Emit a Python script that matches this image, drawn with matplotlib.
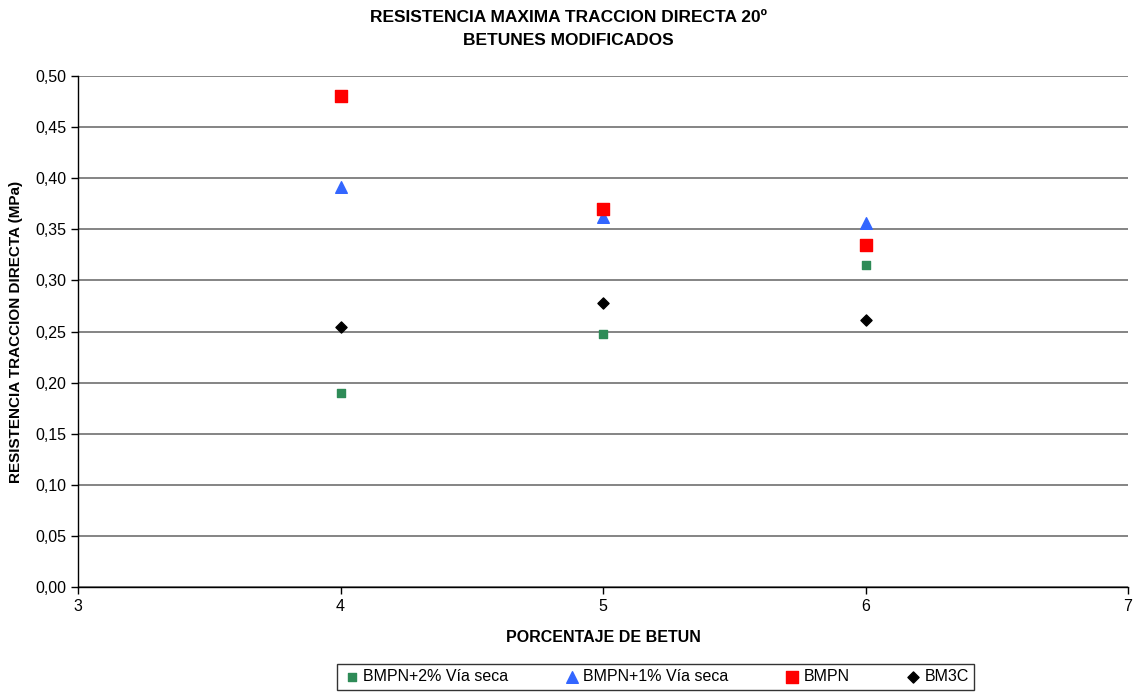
import matplotlib.pyplot as plt
import numpy as np

plt.rcParams['font.family'] = ['Liberation Sans', 'DejaVu Sans']

# percentage of binder
x_vals = [4, 5, 6]

# series values (MPa)
bmpn_2_seca = [0.190, 0.248, 0.315]
bmpn_1_seca = [0.391, 0.362, 0.356]
bmpn = [0.480, 0.370, 0.335]
bm3c = [0.254, 0.278, 0.261]

labels = ["BMPN+2% Vía seca", "BMPN+1% Vía seca", "BMPN", "BM3C"]
y_ticks = np.arange(0, 0.51, 0.05)
x_ticks = [3, 4, 5, 6, 7]

fig = plt.figure(figsize=(11.36, 6.95), dpi=100)
ax = fig.add_axes([0.0687, 0.1554, 0.9243, 0.7352])

ax.scatter(x_vals, bmpn_2_seca, marker="s", s=28, color="#2e8b57", label=labels[0], zorder=3)
ax.scatter(x_vals, bmpn_1_seca, marker="^", s=70, color="#3366ff", label=labels[1], zorder=3)
ax.scatter(x_vals, bmpn, marker="s", s=80, color="#ff0000", label=labels[2], zorder=3)
ax.scatter(x_vals, bm3c, marker="D", s=32, color="black", label=labels[3], zorder=4)

ax.set_xlim(3, 7)
ax.set_ylim(0, 0.5)
ax.set_xticks(x_ticks)
ax.set_yticks(y_ticks)
ax.set_yticklabels([f"{v:.2f}".replace(".", ",") for v in y_ticks])
ax.tick_params(axis="both", direction="out", length=5, labelsize=11.5, width=1)
ax.yaxis.grid(True, color="#6f6f6f", linewidth=1.2)
ax.set_axisbelow(True)

for side in ["top", "right"]:
    ax.spines[side].set_visible(False)
ax.spines["left"].set_linewidth(1)
ax.spines["bottom"].set_linewidth(1)

ax.set_xlabel("PORCENTAJE DE BETUN", fontsize=11.5, fontweight="bold", labelpad=12)
ax.set_ylabel("RESISTENCIA TRACCION DIRECTA (MPa)", fontsize=11, fontweight="bold", labelpad=9)

fig.suptitle("RESISTENCIA MAXIMA TRACCION DIRECTA 20º\nBETUNES MODIFICADOS",
             fontsize=12.5, fontweight="bold", y=0.985, linespacing=1.65)

leg = fig.legend(loc="lower center", bbox_to_anchor=(0.577, -0.004), ncol=4, frameon=True,
                 fancybox=False, edgecolor="black", fontsize=11.5, handletextpad=0.1,
                 columnspacing=3.4, borderpad=0.35, handlelength=1.2)
leg.get_frame().set_linewidth(1)

fig.savefig("out.png", dpi=100)
